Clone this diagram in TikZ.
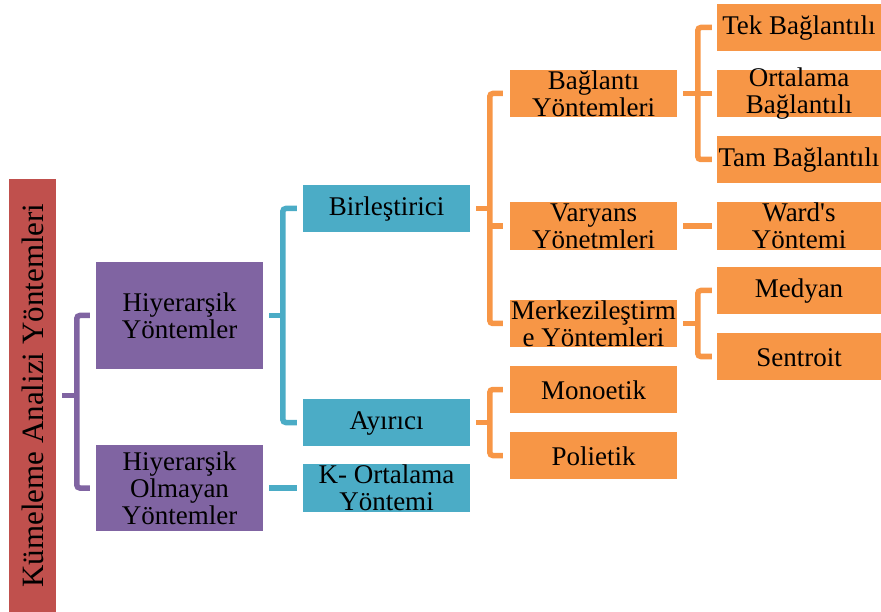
\documentclass[tikz,border=0pt]{standalone}
\usepackage{fontspec}
\setmainfont{Liberation Serif}
\begin{document}
\definecolor{rootred}{HTML}{C0504D}
\definecolor{purp}{HTML}{8064A2}
\definecolor{teal}{HTML}{4BACC6}
\definecolor{orng}{HTML}{F79646}
\begin{tikzpicture}[x=1pt,y=-1pt,
  box/.style={draw=none,inner sep=0pt,minimum width=167pt,minimum height=47pt},
  txt/.style={align=center,inner sep=0pt,font=\fontsize{27}{27}\selectfont},
  conn/.style={line width=5.5pt,rounded corners=3pt},
]
\useasboundingbox (0,0) rectangle (881,612);

% root box with vertical title
\node[box,fill=rootred,minimum width=47pt,minimum height=433pt,
  label={[rotate=90,inner sep=0pt,font=\fontsize{31}{33}\selectfont]center:Kümeleme Analizi Yöntemleri}]
  (root) at (32.5,395.5) {};

% second level
\node[box,fill=purp,minimum height=107pt,label={[txt]center:Hiyerarşik\\Yöntemler}] (hier) at (179.5,315.5) {};
\node[box,fill=purp,minimum height=86pt,label={[txt]center:Hiyerarşik\\Olmayan\\Yöntemler}] (nonhier) at (179.5,488) {};

% third level
\node[box,fill=teal,label={[txt,yshift=-1pt]center:Birleştirici}] (birl) at (386.5,208.5) {};
\node[box,fill=teal,label={[txt,yshift=-1pt]center:Ayırıcı}] (ayir) at (386.5,422.5) {};
\node[box,fill=teal,minimum height=48pt,label={[txt]center:K- Ortalama\\Yöntemi}] (kort) at (386.5,488) {};

% fourth level
\node[box,fill=orng,label={[txt]center:Bağlantı\\Yöntemleri}] (bag) at (593.5,93.5) {};
\node[box,fill=orng,minimum height=48pt,label={[txt]center:Varyans\\Yönetmleri}] (var) at (593.5,226) {};
\node[box,fill=orng,label={[txt]center:Merkezileştirm\\e Yöntemleri}] (merk) at (593.5,323.5) {};
\node[box,fill=orng,label={[txt,yshift=-1pt]center:Monoetik}] (mono) at (593.5,389.5) {};
\node[box,fill=orng,label={[txt,yshift=-1pt]center:Polietik}] (poli) at (593.5,455.5) {};

% fifth level
\node[box,fill=orng,minimum width=164pt,label={[txt,yshift=-1pt]center:Tek Bağlantılı}] (tek) at (799,27.5) {};
\node[box,fill=orng,minimum width=164pt,label={[txt]center:Ortalama\\Bağlantılı}] (ort) at (799,93.5) {};
\node[box,fill=orng,minimum width=164pt,label={[txt,yshift=-1pt]center:Tam Bağlantılı}] (tam) at (799,159.5) {};
\node[box,fill=orng,minimum width=164pt,minimum height=48pt,label={[txt]center:Ward\textquotesingle s\\Yöntemi}] (ward) at (799,226) {};
\node[box,fill=orng,minimum width=164pt,label={[txt,yshift=-1pt]center:Medyan}] (med) at (799,290.5) {};
\node[box,fill=orng,minimum width=164pt,label={[txt,yshift=-1pt]center:Sentroit}] (sen) at (799,356.5) {};

% purple bracket
\draw[conn,purp] ([xshift=6pt]root.east) -- ++(15,0);
\draw[conn,purp] ([xshift=-6pt]hier.west) -- ++(-13,0) |- ([xshift=-6pt]nonhier.west);

% teal brackets
\draw[conn,teal] ([xshift=6pt]hier.east) -- ++(14,0);
\draw[conn,teal] ([xshift=-6pt]birl.west) -- ++(-14,0) |- ([xshift=-6pt]ayir.west);
\draw[conn,teal] ([xshift=6pt]nonhier.east) -- ([xshift=-6pt]kort.west);

% orange brackets
\draw[conn,orng] ([xshift=6pt]birl.east) -- ++(14,0);
\draw[conn,orng] ([xshift=-7pt]bag.west) -- ++(-13,0) |- ([xshift=-7pt]merk.west);
\draw[conn,orng] ([xshift=-7pt]var.west) -- ++(-13,0);

\draw[conn,orng] ([xshift=6pt]ayir.east) -- ++(14,0);
\draw[conn,orng] ([xshift=-7pt]mono.west) -- ++(-13,0) |- ([xshift=-7pt]poli.west);

\draw[conn,orng] ([xshift=6pt]bag.east) -- ([xshift=-5pt]ort.west);
\draw[conn,orng] ([xshift=-5pt]tek.west) -- ++(-14,0) |- ([xshift=-5pt]tam.west);

\draw[conn,orng] ([xshift=6pt]var.east) -- ([xshift=-5pt]ward.west);

\draw[conn,orng] ([xshift=6pt]merk.east) -- ++(15,0);
\draw[conn,orng] ([xshift=-5pt]med.west) -- ++(-14,0) |- ([xshift=-5pt]sen.west);
\end{tikzpicture}
\end{document}
